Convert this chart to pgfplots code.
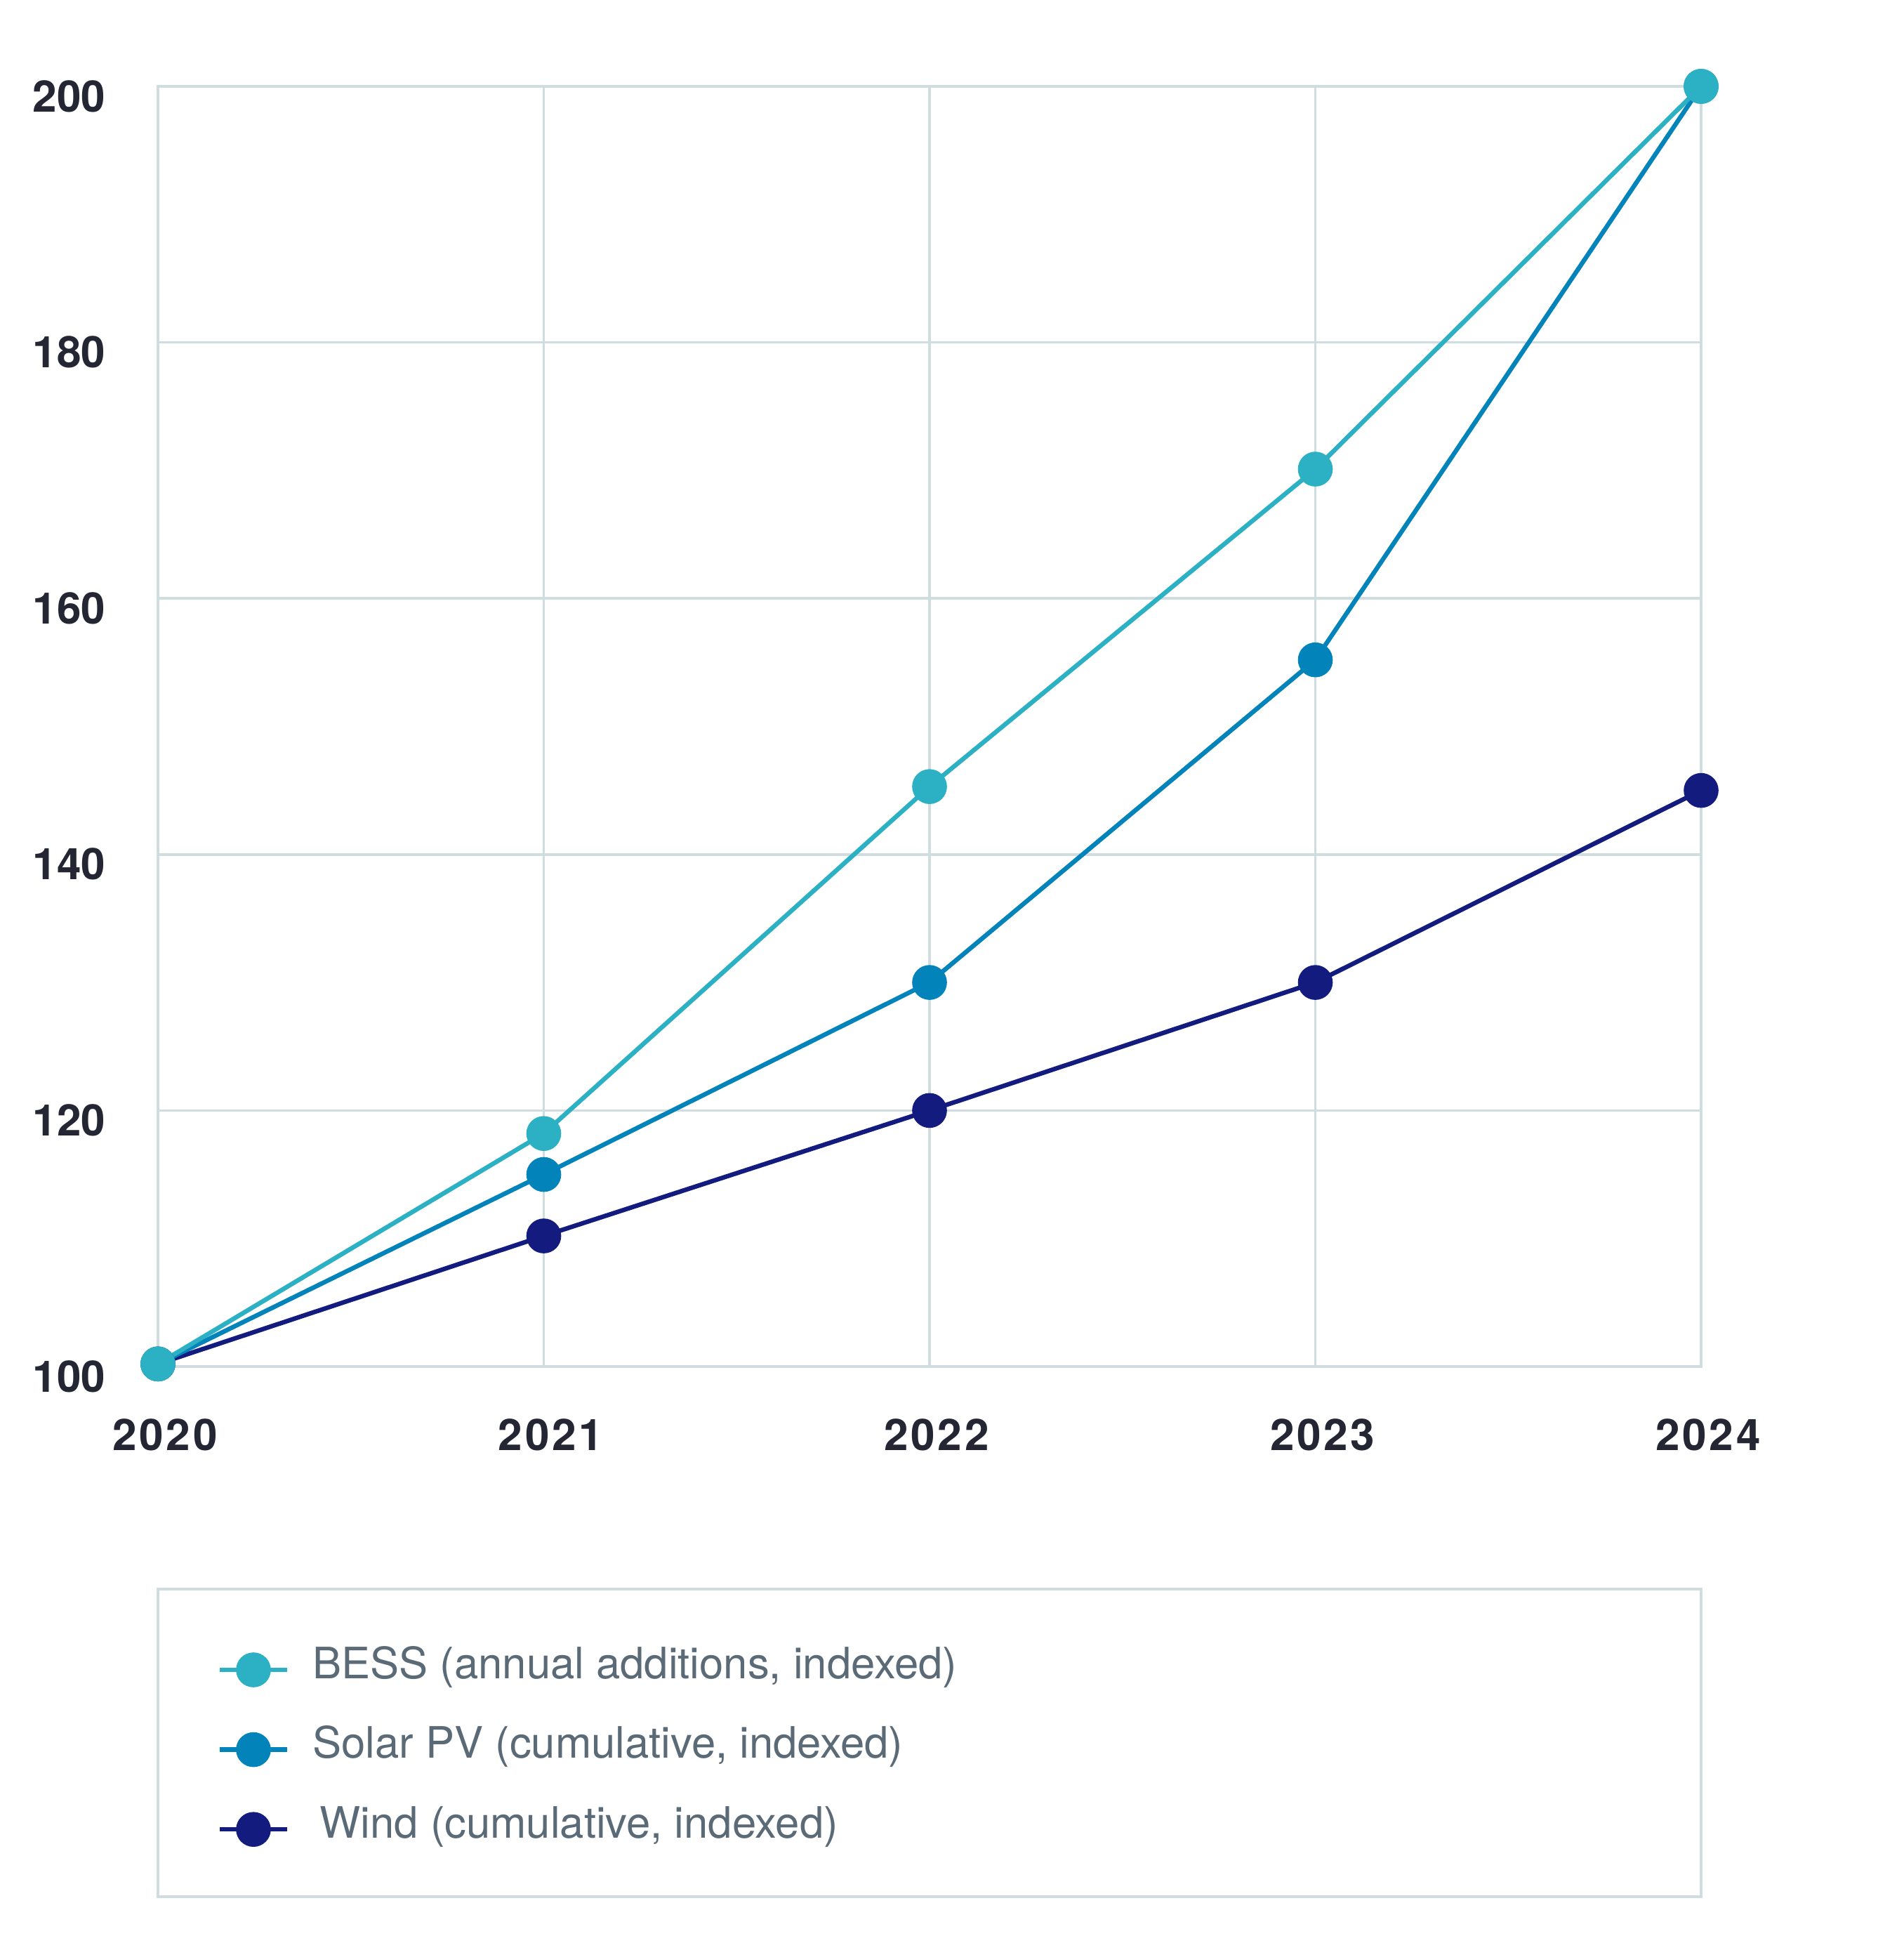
\documentclass[border=0pt]{standalone}
\usepackage{pgfplots}
\pgfplotsset{compat=1.18}
\usepackage{fontspec}
\setmainfont{TeX Gyre Heros}
\definecolor{gridc}{HTML}{D0DDE0}
\definecolor{bess}{HTML}{2BB0C4}
\definecolor{solar}{HTML}{0284BB}
\definecolor{wind}{HTML}{131C7E}
\definecolor{tickc}{HTML}{242633}
\definecolor{legc}{HTML}{5B6A77}
\begin{document}
\begin{tikzpicture}
\path[use as bounding box] (-56.25pt,-202.75pt) rectangle (621.5pt,486.5pt);
\draw[gridc, line width=1pt] (0pt,-79.25pt) rectangle (549.5pt,-188.75pt);
\begin{axis}[
  at={(0pt,0pt)}, anchor=south west,
  scale only axis, width=549.5pt, height=455.75pt,
  xmin=2020, xmax=2024, ymin=100, ymax=200,
  xtick={2020,2021,2022,2023,2024},
  xticklabels={2020,2021,2022,2023,2024},
  ytick={100,120,140,160,180,200},
  major tick length=0pt,
  grid=major,
  grid style={gridc, line width=0.9pt},
  axis line style={gridc, line width=1pt},
  /pgf/number format/assume math mode=true,
  tick label style={font=\fontsize{15.5}{18}\selectfont\bfseries, text=tickc},
  xticklabel style={inner sep=0pt, yshift=-18.5pt, xshift=2.5pt, font=\fontsize{15.5}{18}\selectfont\bfseries\addfontfeature{LetterSpace=6}},
  yticklabel style={inner sep=0pt, xshift=-18.5pt, yshift=-3.5pt},
  clip=false,
  reverse legend,
  legend style={at={(axis description cs:0,0)}, anchor=north west,
    xshift=21pt, yshift=-100.8pt, draw=none, fill=none, inner sep=0pt,
    row sep=14.4pt, font=\fontsize{15.4}{17}\selectfont, text=legc,
    nodes={inner sep=0pt, text height=10pt, text depth=4pt}},
  legend cell align=left,
  legend image code/.code={\draw[mark repeat=2,mark phase=2,#1] plot coordinates {(0pt,0pt)(12pt,0pt)(24pt,0pt)};},
  every axis plot/.append style={line width=1.6pt, mark=*, mark size=5.4pt},
]
\addplot[wind, mark options={fill=wind, draw=wind}] coordinates {(2020,100.2) (2021,110.2) (2022,120) (2023,130) (2024,145)};
\addlegendentry{\hspace{8.3pt}\,Wind (cumulative, indexed)}
\addplot[solar, mark options={fill=solar, draw=solar}] coordinates {(2020,100.2) (2021,115) (2022,130) (2023,155.2) (2024,200)};
\addlegendentry{\hspace{8.3pt}Solar PV (cumulative, indexed)}
\addplot[bess, mark options={fill=bess, draw=bess}] coordinates {(2020,100.2) (2021,118.2) (2022,145.3) (2023,170.1) (2024,200)};
\addlegendentry{\hspace{8.3pt}BESS (annual additions, indexed)}
\end{axis}
\end{tikzpicture}
\end{document}
